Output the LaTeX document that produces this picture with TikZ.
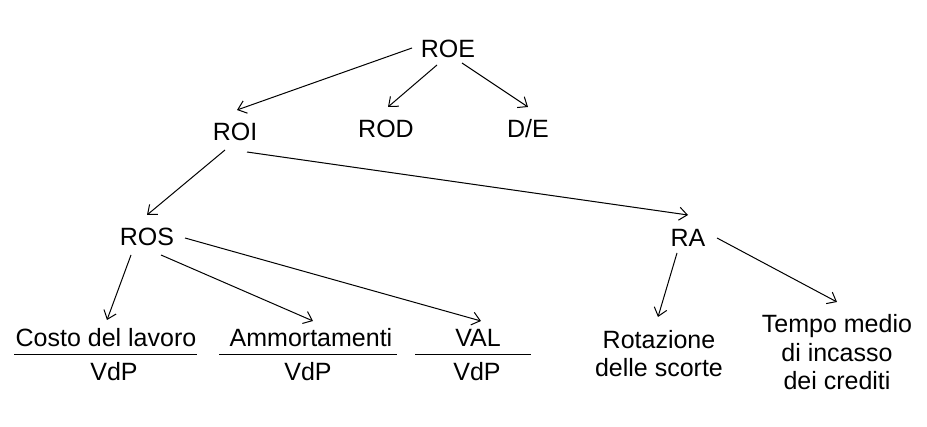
\documentclass[tikz,border=0pt]{standalone}
\usepackage{fontspec}
\setmainfont{Liberation Sans}
\usetikzlibrary{arrows.meta}
\begin{document}
\begin{tikzpicture}[x=1pt,y=-1pt,
  lbl/.style={inner sep=0pt,outer sep=0pt,anchor=base,font=\fontsize{25}{28}\selectfont},
  lbltwo/.style={inner sep=0pt,outer sep=0pt,anchor=base,align=center,font=\fontsize{25}{28}\selectfont},
  lblthree/.style={inner sep=0pt,outer sep=0pt,anchor=base,align=center,font=\fontsize{25}{28.5}\selectfont},
  arr/.style={line width=1pt,-{Straight Barb[length=8pt,width=13pt,line width=1pt]}},
  frac/.style={line width=1pt}]
\useasboundingbox (0,0) rectangle (927,427);
\node[lbl] (roe) at (448,58) {ROE};
\node[lbl] (roi) at (235,141) {ROI};
\node[lbl] (rod) at (386,138) {ROD};
\node[lbl] (de) at (528,138) {D/E};
\node[lbl] (ros) at (147,246) {ROS};
\node[lbl] (ra) at (688,247) {RA};
\node[lbl] (costo) at (106,347) {Costo del lavoro};
\node[lbl] (vdpa) at (114,381) {VdP};
\node[lbl] (amm) at (311,347) {Ammortamenti};
\node[lbl] (vdpb) at (308,381) {VdP};
\node[lbl] (val) at (478,347) {VAL};
\node[lbl] (vdpc) at (477,381) {VdP};
\node[lbltwo] (rot) at (659,377) {Rotazione\\delle scorte};
\node[lblthree] (tempo) at (837,390) {Tempo medio\\di incasso\\dei crediti};
\coordinate (fa1) at (14,355); \coordinate (fa2) at (197,355);
\coordinate (fb1) at (219,355); \coordinate (fb2) at (397,355);
\coordinate (fc1) at (415,355); \coordinate (fc2) at (531,355);
\draw[frac] (fa1) -- (fa2);
\draw[frac] (fb1) -- (fb2);
\draw[frac] (fc1) -- (fc2);
\draw[arr] ([shift={(-36,-10)}]roe.base) -- ([shift={(2,-31)}]roi.base);
\draw[arr] ([shift={(-11,7)}]roe.base) -- ([shift={(2,-31)}]rod.base);
\draw[arr] ([shift={(14,5)}]roe.base) -- ([shift={(0,-31)}]de.base);
\draw[arr] ([shift={(-10,9)}]roi.base) -- ([shift={(0,-31)}]ros.base);
\draw[arr] ([shift={(12,11)}]roi.base) -- ([shift={(0,-32)}]ra.base);
\draw[arr] ([shift={(-16,9)}]ros.base) -- ([shift={(1,-27)}]costo.base);
\draw[arr] ([shift={(14,9)}]ros.base) -- ([shift={(2,-26)}]amm.base);
\draw[arr] ([shift={(38,-8)}]ros.base) -- ([shift={(3,-26)}]val.base);
\draw[arr] ([shift={(-11,6)}]ra.base) -- ([shift={(-1,-60)}]rot.base);
\draw[arr] ([shift={(29,-9)}]ra.base) -- ([shift={(0,-88)}]tempo.base);
\end{tikzpicture}
\end{document}
